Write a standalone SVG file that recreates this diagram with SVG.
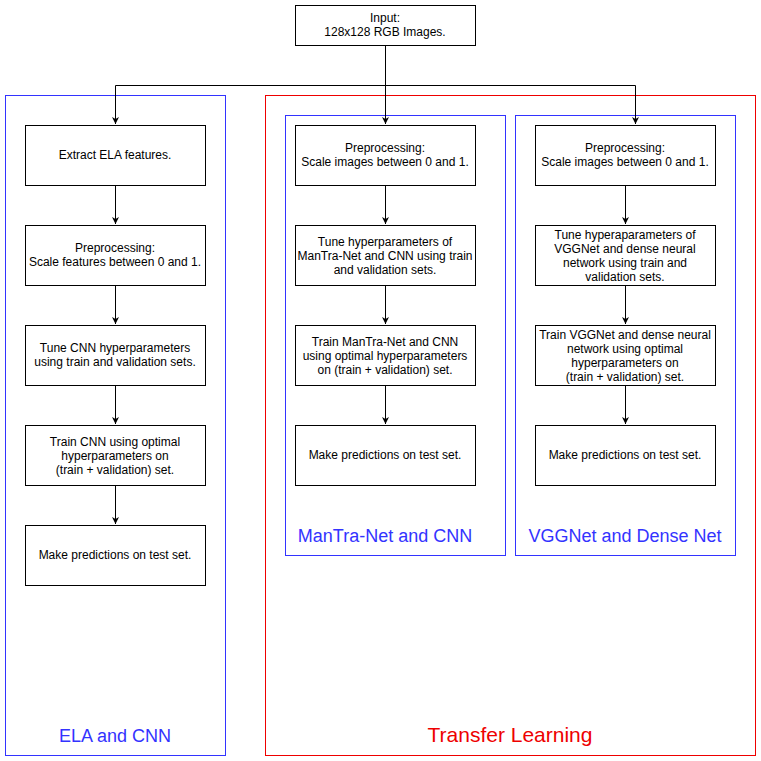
<svg xmlns="http://www.w3.org/2000/svg" width="761" height="761" viewBox="0 0 761 761">
<style>
.box{fill:#fff;stroke:#000;stroke-width:1}
.t{font-family:"Liberation Sans",Arial,sans-serif;font-size:12px;fill:#000;text-anchor:middle}
.c{fill:none;stroke:#000;stroke-width:1}
.grp{fill:none;stroke-width:1}
.gl{font-family:"Liberation Sans",Arial,sans-serif;text-anchor:middle}
</style>
<defs>
<marker id="ah" viewBox="0 0 10 10" refX="10" refY="5" markerWidth="7" markerHeight="7" markerUnits="userSpaceOnUse" orient="auto">
<path d="M0,0 L10,5 L0,10 L3,5 Z" fill="#000"/>
</marker>
</defs>
<rect width="761" height="761" fill="#fff"/>
<g id="containers">
<g id="ela-group"><rect class="grp" x="5.5" y="95.5" width="220" height="660" stroke="#3333ff"/><text class="gl" x="115" y="742" font-size="18" fill="#3333ff">ELA and CNN</text></g>
<g id="transfer-group"><rect class="grp" x="265.5" y="95.5" width="490" height="660" stroke="#ee0000"/><text class="gl" x="510" y="742" font-size="21" fill="#ee0000">Transfer Learning</text></g>
<g id="mantra-group"><rect class="grp" x="285.5" y="115.5" width="220" height="440" stroke="#3333ff"/><text class="gl" x="385" y="542" font-size="18" fill="#3333ff">ManTra-Net and CNN</text></g>
<g id="vgg-group"><rect class="grp" x="515.5" y="115.5" width="220" height="440" stroke="#3333ff"/><text class="gl" x="625" y="542" font-size="18" fill="#3333ff">VGGNet and Dense Net</text></g>
</g>
<g id="connectors">
<path class="c" d="M385.5,45 V85.5 H115.5 V124" marker-end="url(#ah)"/>
<path class="c" d="M385.5,85 V124" marker-end="url(#ah)"/>
<path class="c" d="M385.5,85.5 H635.5 V124" marker-end="url(#ah)"/>
<path class="c" d="M115.5,185 V224" marker-end="url(#ah)"/>
<path class="c" d="M115.5,285 V324" marker-end="url(#ah)"/>
<path class="c" d="M115.5,385 V424" marker-end="url(#ah)"/>
<path class="c" d="M115.5,485 V524" marker-end="url(#ah)"/>
<path class="c" d="M385.5,185 V224" marker-end="url(#ah)"/>
<path class="c" d="M385.5,285 V324" marker-end="url(#ah)"/>
<path class="c" d="M385.5,385 V424" marker-end="url(#ah)"/>
<path class="c" d="M625.5,185 V224" marker-end="url(#ah)"/>
<path class="c" d="M625.5,285 V324" marker-end="url(#ah)"/>
<path class="c" d="M625.5,385 V424" marker-end="url(#ah)"/>
</g>
<g id="input"><rect class="box" x="295.5" y="5.5" width="180" height="40"/><text class="t" x="385" y="22">Input:</text><text class="t" x="385" y="36">128x128 RGB Images.</text></g>
<g id="ela1"><rect class="box" x="25.5" y="125.5" width="180" height="60"/><text class="t" x="115" y="159">Extract ELA features.</text></g>
<g id="ela2"><rect class="box" x="25.5" y="225.5" width="180" height="60"/><text class="t" x="115" y="252">Preprocessing:</text><text class="t" x="115" y="266">Scale features between 0 and 1.</text></g>
<g id="ela3"><rect class="box" x="25.5" y="325.5" width="180" height="60"/><text class="t" x="115" y="352">Tune CNN hyperparameters</text><text class="t" x="115" y="366">using train and validation sets.</text></g>
<g id="ela4"><rect class="box" x="25.5" y="425.5" width="180" height="60"/><text class="t" x="115" y="446">Train CNN using optimal</text><text class="t" x="115" y="460">hyperparameters on</text><text class="t" x="115" y="474">(train + validation) set.</text></g>
<g id="ela5"><rect class="box" x="25.5" y="525.5" width="180" height="60"/><text class="t" x="115" y="559">Make predictions on test set.</text></g>
<g id="mt1"><rect class="box" x="295.5" y="125.5" width="180" height="60"/><text class="t" x="385" y="152">Preprocessing:</text><text class="t" x="385" y="166">Scale images between 0 and 1.</text></g>
<g id="mt2"><rect class="box" x="295.5" y="225.5" width="180" height="60"/><text class="t" x="385" y="246">Tune hyperparameters of</text><text class="t" x="385" y="260">ManTra-Net and CNN using train</text><text class="t" x="385" y="274">and validation sets.</text></g>
<g id="mt3"><rect class="box" x="295.5" y="325.5" width="180" height="60"/><text class="t" x="385" y="346">Train ManTra-Net and CNN</text><text class="t" x="385" y="360">using optimal hyperparameters</text><text class="t" x="385" y="374">on (train + validation) set.</text></g>
<g id="mt4"><rect class="box" x="295.5" y="425.5" width="180" height="60"/><text class="t" x="385" y="459">Make predictions on test set.</text></g>
<g id="vg1"><rect class="box" x="535.5" y="125.5" width="180" height="60"/><text class="t" x="625" y="152">Preprocessing:</text><text class="t" x="625" y="166">Scale images between 0 and 1.</text></g>
<g id="vg2"><rect class="box" x="535.5" y="225.5" width="180" height="60"/><text class="t" x="625" y="239">Tune hyperaparameters of</text><text class="t" x="625" y="253">VGGNet and dense neural</text><text class="t" x="625" y="267">network using train and</text><text class="t" x="625" y="281">validation sets.</text></g>
<g id="vg3"><rect class="box" x="535.5" y="325.5" width="180" height="60"/><text class="t" x="625" y="339">Train VGGNet and dense neural</text><text class="t" x="625" y="353">network using optimal</text><text class="t" x="625" y="367">hyperparameters on</text><text class="t" x="625" y="381">(train + validation) set.</text></g>
<g id="vg4"><rect class="box" x="535.5" y="425.5" width="180" height="60"/><text class="t" x="625" y="459">Make predictions on test set.</text></g>
</svg>
